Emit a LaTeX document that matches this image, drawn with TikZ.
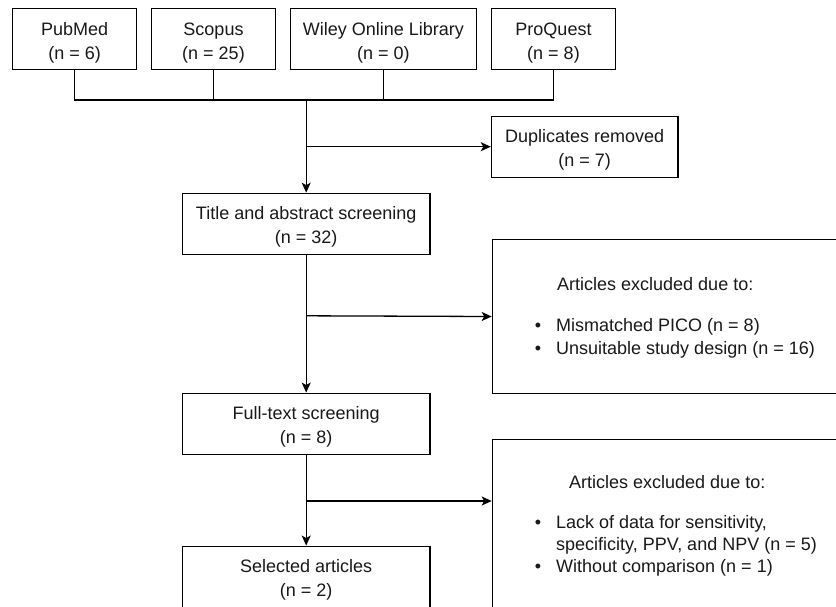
\documentclass[tikz,border=0pt]{standalone}
\usepackage{fontspec}
\setmainfont{Liberation Sans}
\usetikzlibrary{arrows.meta}
\newcommand{\boxlines}[1]{\raisebox{-3pt}[\height][\depth]{\begin{tabular}{@{}c@{}}#1\end{tabular}}}
\begin{document}
\begin{tikzpicture}[x=1pt,y=-1pt,
  every node/.style={font=\fontsize{18}{24}\selectfont, text=black!90},
  box/.style={draw=black, line width=1.3pt, fill=white, inner sep=0pt, minimum height=61pt},
  conn/.style={draw=black, line width=1.3pt},
  arr/.style={conn, -{Stealth[length=10pt,width=9pt,inset=2.5pt]}},
  txt/.style={anchor=base west, inner sep=0pt},
  bul/.style={anchor=base, inner sep=0pt}]
\useasboundingbox (0,0) rectangle (836,606);
\clip (0,0) rectangle (836,606);
\fill[white] (0,0) rectangle (836,606);

% source boxes
\node[box, minimum width=124pt] (pub) at (74.7,39.3) {\boxlines{PubMed\\(n = 6)}};
\node[box, minimum width=123.6pt] (sco) at (213.5,39.3) {\boxlines{Scopus\\(n = 25)}};
\node[box, minimum width=186pt] (wil) at (383.3,39.3) {\boxlines{Wiley Online Library\\(n = 0)}};
\node[box, minimum width=123.6pt] (pro) at (553.5,39.3) {\boxlines{ProQuest\\(n = 8)}};

% main flow boxes
\node[box, minimum width=186.5pt] (dup) at (584.7,146.7) {\boxlines{Duplicates removed\\(n = 7)}};
\node[box, minimum width=247.7pt] (tit) at (306.2,223.8) {\boxlines{Title and abstract screening\\(n = 32)}};
\node[box, minimum width=247.7pt] (ful) at (306.2,423.7) {\boxlines{Full-text screening\\(n = 8)}};
\node[box, minimum width=247.7pt] (sel) at (306.2,576.7) {\boxlines{Selected articles\\(n = 2)}};

% exclusion boxes
\node[box, minimum width=390pt, minimum height=153.7pt, anchor=north west] (ex1) at (491.7,239) {};
\node[box, minimum width=390pt, minimum height=200pt, anchor=north west] (ex2) at (491.7,438.7) {};

\node[txt] (ex1h) at (557,290.5) {Articles excluded due to:};
\node[bul] (ex1b1) at (538,331.5) {\textbullet};
\node[txt] (ex1t1) at (556,331.5) {Mismatched PICO (n = 8)};
\node[bul] (ex1b2) at (538,354.2) {\textbullet};
\node[txt] (ex1t2) at (556,354.2) {Unsuitable study design (n = 16)};

\node[txt] (ex2h) at (569,488.5) {Articles excluded due to:};
\node[bul] (ex2b1) at (538,528.5) {\textbullet};
\node[txt] (ex2t1) at (556,528.5) {Lack of data for sensitivity,};
\node[txt] (ex2t2) at (556,550.8) {specificity, PPV, and NPV (n = 5)};
\node[bul] (ex2b3) at (538,572.5) {\textbullet};
\node[txt] (ex2t3) at (556,572.5) {Without comparison (n = 1)};

% connectors
\coordinate (j) at (306.2,100);
\draw[conn] (pub.south) |- (j);
\draw[conn] (sco.south) |- (j);
\draw[conn] (wil.south) |- (j);
\draw[conn] (pro.south) |- (j);
\draw[arr] (j) -- (tit.north);
\coordinate (b1) at (306.2,146.7);
\draw[arr] (b1) -- (dup.west);

\draw[arr] (tit.south) -- (ful.north);
\coordinate (b2) at (306.2,315.8);
\draw[arr] (b2) -- (ex1.west);

\draw[arr] (ful.south) -- (sel.north);
\coordinate (b3) at (306.2,501);
\draw[arr] (b3) -- (b3 -| ex2.west);
\end{tikzpicture}
\end{document}
